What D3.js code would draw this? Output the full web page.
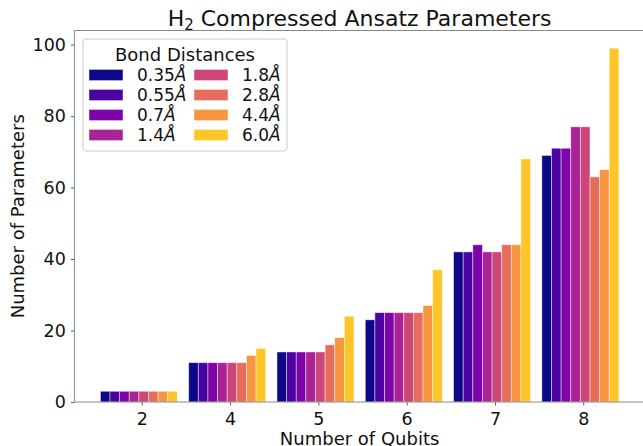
<!DOCTYPE html>
<html>
<head>
<meta charset="utf-8">
<script src="https://cdn.jsdelivr.net/npm/d3@7"></script>
<style>
  body { margin: 0; background: #fff; }
  svg { display: block; font-family: "DejaVu Sans", sans-serif; }
</style>
</head>
<body>
<svg id="chart" width="643" height="446"></svg>
<script>
var qubits = ["2", "4", "5", "6", "7", "8"];
var distances = ["0.35", "0.55", "0.7", "1.4", "1.8", "2.8", "4.4", "6.0"];
// one array per bond distance, values per qubit count
var d035 = [3, 11, 14, 23, 42, 69],
    d055 = [3, 11, 14, 25, 42, 71],
    d07  = [3, 11, 14, 25, 44, 71],
    d14  = [3, 11, 14, 25, 42, 77],
    d18  = [3, 11, 14, 25, 42, 77],
    d28  = [3, 11, 16, 25, 44, 63],
    d44  = [3, 13, 18, 27, 44, 65],
    d60  = [3, 15, 24, 37, 68, 99];
var series = [d035, d055, d07, d14, d18, d28, d44, d60];
var yTicks = [0, 20, 40, 60, 80, 100];

var svg = d3.select("#chart");
var pLeft = 74.4, pRight = 644.8, pTop = 30.5, pBottom = 402;

var barW = 0.109;
var x = d3.scaleLinear().domain([-0.763, 5.697]).range([pLeft, pRight]);
var y = d3.scaleLinear().domain([0, 99 * 1.05]).range([pBottom, pTop]);
var color = function(j) { return d3.interpolatePlasma(j / 8); };

// bars
series.forEach(function(vals, j) {
  svg.append("g").selectAll("rect")
      .data(vals)
    .enter().append("rect")
      .attr("x", function(d, i) { return x(i + (j - 4.3) * barW); })
      .attr("width", x(barW) - x(0))
      .attr("y", function(d) { return y(d); })
      .attr("height", function(d) { return y(0) - y(d); })
      .attr("fill", color(j))
      .attr("stroke", "#fff")
      .attr("stroke-opacity", 0.55)
      .attr("stroke-width", 0.8);
});

// axes
var xAxis = d3.axisBottom(x)
    .tickValues(d3.range(qubits.length))
    .tickFormat(function(i) { return qubits[i]; })
    .tickSize(3.5).tickPadding(7);
var gx = svg.append("g").attr("transform", "translate(0," + pBottom + ")").call(xAxis);

var yAxis = d3.axisLeft(y).tickValues(yTicks).tickSize(3.5).tickPadding(5);
var gy = svg.append("g").attr("transform", "translate(" + pLeft + ",0)").call(yAxis);

[gx, gy].forEach(function(g) {
  g.select(".domain").remove();
  g.selectAll(".tick line").attr("stroke", "#333").attr("stroke-width", 0.8);
  g.selectAll(".tick text").attr("font-size", 17.5).attr("fill", "#111")
    .attr("font-family", "DejaVu Sans");
});

// spines (left, top, bottom)
svg.append("path")
    .attr("d", "M" + pRight + "," + pTop + "H" + pLeft + "V" + pBottom + "H" + pRight)
    .attr("fill", "none").attr("stroke", "#888").attr("stroke-width", 1);

// title
var title = svg.append("text")
    .attr("x", (pLeft + pRight) / 2).attr("y", 26)
    .attr("text-anchor", "middle").attr("font-size", 22).attr("fill", "#111");
title.append("tspan").text("H");
title.append("tspan").attr("font-size", 15).attr("dy", 4).text("2");
title.append("tspan").attr("dy", -4).text(" Compressed Ansatz Parameters");

// axis labels
svg.append("text")
    .attr("x", (pLeft + pRight) / 2).attr("y", 445)
    .attr("text-anchor", "middle").attr("font-size", 18).attr("fill", "#111")
    .text("Number of Qubits");
svg.append("text")
    .attr("transform", "translate(24," + (pBottom + pTop) / 2 + ") rotate(-90)")
    .attr("text-anchor", "middle").attr("font-size", 18).attr("fill", "#111")
    .text("Number of Parameters");

// legend
var lg = svg.append("g");
lg.append("rect")
    .attr("x", 83).attr("y", 39).attr("width", 204).attr("height", 112)
    .attr("rx", 3).attr("fill", "#fff").attr("fill-opacity", 0.8)
    .attr("stroke", "#ccc").attr("stroke-width", 1);
lg.append("text")
    .attr("x", 185).attr("y", 60.5).attr("text-anchor", "middle")
    .attr("font-size", 18).attr("fill", "#111").text("Bond Distances");

var item = lg.selectAll(".item")
    .data(distances)
  .enter().append("g")
    .attr("class", "item")
    .attr("transform", function(d, j) {
      return "translate(" + (j < 4 ? 89 : 194) + "," + (75 + (j % 4) * 20) + ")";
    });
item.append("rect")
    .attr("x", 0).attr("y", -5.6).attr("width", 34).attr("height", 11.2)
    .attr("fill", function(d, j) { return color(j); })
    .attr("stroke", "#fff").attr("stroke-opacity", 0.55).attr("stroke-width", 0.8);
var lt = item.append("text")
    .attr("x", 48).attr("y", 6.3)
    .attr("font-size", 17).attr("fill", "#111");
lt.append("tspan").text(function(d) { return d; });
lt.append("tspan").attr("font-style", "italic").text("Å");
</script>
</body>
</html>
